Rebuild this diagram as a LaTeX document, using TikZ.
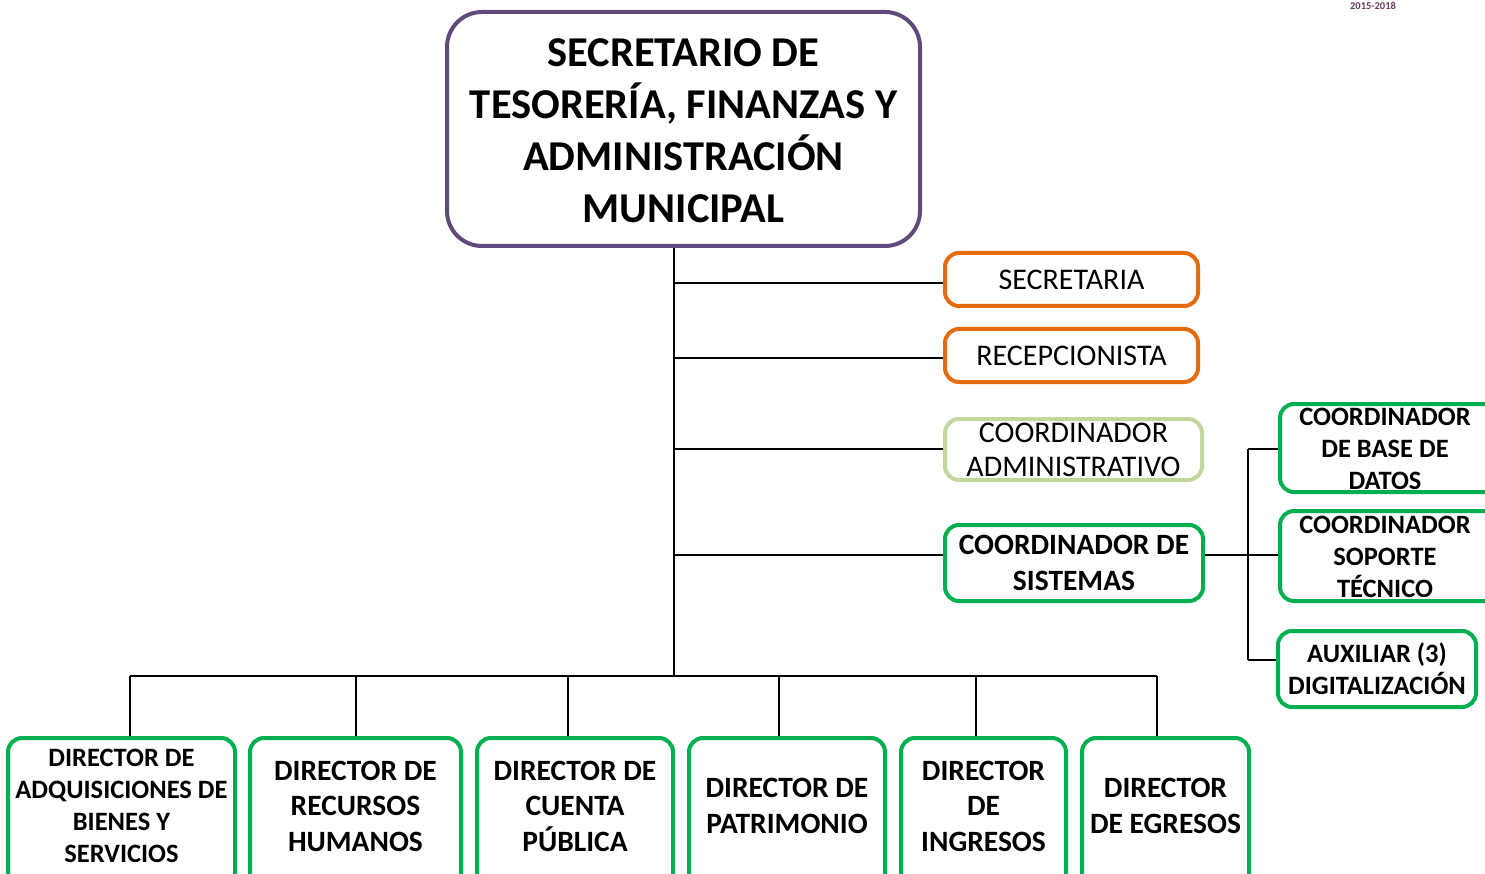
\documentclass[tikz,border=0pt]{standalone}
\usepackage{fontspec}
\setmainfont{Carlito}
\definecolor{cpurple}{HTML}{604A7B}
\definecolor{corange}{HTML}{E46C0A}
\definecolor{clgreen}{HTML}{C3D69B}
\definecolor{cgreen}{HTML}{00B050}
\definecolor{cyear}{HTML}{6B3A5E}
\begin{document}
\begin{tikzpicture}[x=1pt,y=-1pt,
  box/.style={draw, line width=4pt, rounded corners=14pt, fill=white, align=center, inner sep=0pt},
  conn/.style={draw, line width=1.5pt},
  fbig/.style={font=\fontsize{42.5}{52}\selectfont\bfseries},
  fmed/.style={font=\fontsize{30}{34}\selectfont},
  fmedb/.style={font=\fontsize{29.5}{35.5}\selectfont\bfseries},
  fsmb/.style={font=\fontsize{26.5}{32}\selectfont\bfseries},
]
\useasboundingbox (0,0) rectangle (1485,874);

% junction coordinates
\coordinate (tb) at (674,676);
\coordinate (ts) at (674,246);
\coordinate (j1) at (674,283);
\coordinate (j2) at (674,358);
\coordinate (j3) at (674,449);
\coordinate (j4) at (674,555);
\coordinate (hl) at (130,676);
\coordinate (hr) at (1157,676);
\coordinate (s1) at (1248,449);
\coordinate (s2) at (1248,555);
\coordinate (s3) at (1248,660);

% top box
\node[box, draw=cpurple, rounded corners=35pt, minimum width=473pt, minimum height=234pt, fbig] (top) at (683.5,129) {};
\node[fbig, align=center] (topt) at (683.5,131) {SECRETARIO DE\\TESORERÍA, FINANZAS Y\\ADMINISTRACIÓN\\MUNICIPAL};

% right column
\node[box, draw=corange, minimum width=253pt, minimum height=53pt, fmed] (sec) at (1071.5,279.5) {SECRETARIA};
\node[box, draw=corange, minimum width=253pt, minimum height=53pt, fmed] (rec) at (1071.5,355.5) {RECEPCIONISTA};
\node[box, draw=clgreen, minimum width=257pt, minimum height=61pt, fmed] (adm) at (1073.5,449.5) {COORDINADOR\\ADMINISTRATIVO};
\node[box, draw=cgreen, minimum width=258pt, minimum height=76pt, fmedb] (sis) at (1074,563) {COORDINADOR DE\\SISTEMAS};

% sub-boxes
\node[box, draw=cgreen, minimum width=220pt, minimum height=88pt] (bdd) at (1390,448) {};
\node[fsmb, align=center] (bddt) at (1385,449) {COORDINADOR\\DE BASE DE\\DATOS};
\node[box, draw=cgreen, minimum width=220pt, minimum height=90pt] (sop) at (1390,556) {};
\node[fsmb, align=center] (sopt) at (1385,557) {COORDINADOR\\SOPORTE\\TÉCNICO};
\node[box, draw=cgreen, minimum width=198pt, minimum height=76pt, fsmb] (aux) at (1377,669) {AUXILIAR (3)\\DIGITALIZACIÓN};

% bottom boxes
\node[box, draw=cgreen, minimum width=227pt, minimum height=150pt] (d1) at (121.5,813) {};
\node[fsmb, align=center] (d1t) at (121.5,806) {DIRECTOR DE\\ADQUISICIONES DE\\BIENES Y\\SERVICIOS};
\node[box, draw=cgreen, minimum width=211pt, minimum height=150pt] (d2) at (355.5,813) {};
\node[fmedb, align=center] (d2t) at (355.5,806) {DIRECTOR DE\\RECURSOS\\HUMANOS};
\node[box, draw=cgreen, minimum width=196pt, minimum height=150pt] (d3) at (575,813) {};
\node[fmedb, align=center] (d3t) at (575,806) {DIRECTOR DE\\CUENTA\\PÚBLICA};
\node[box, draw=cgreen, minimum width=196pt, minimum height=150pt] (d4) at (787,813) {};
\node[fmedb, align=center] (d4t) at (787,806) {DIRECTOR DE\\PATRIMONIO};
\node[box, draw=cgreen, minimum width=165pt, minimum height=150pt] (d5) at (983.5,813) {};
\node[fmedb, align=center] (d5t) at (983.5,806) {DIRECTOR\\DE\\INGRESOS};
\node[box, draw=cgreen, minimum width=167pt, minimum height=150pt] (d6) at (1165.5,813) {};
\node[fmedb, align=center] (d6t) at (1165.5,806) {DIRECTOR\\DE EGRESOS};

% connectors
\draw[conn] (top.south -| ts) -- (tb);
\draw[conn] (j1) -- (sec.west |- j1);
\draw[conn] (j2) -- (rec.west |- j2);
\draw[conn] (j3) -- (adm.west |- j3);
\draw[conn] (j4) -- (sis.west |- j4);
\draw[conn] (hl) -- (hr);
\draw[conn] (hl) -- (d1.north -| hl);
\draw[conn] (356,676) -- (d2.north -| 356,0);
\draw[conn] (568,676) -- (d3.north -| 568,0);
\draw[conn] (779,676) -- (d4.north -| 779,0);
\draw[conn] (976,676) -- (d5.north -| 976,0);
\draw[conn] (hr) -- (d6.north -| hr);
\draw[conn] (sis.east |- j4) -- (s2);
\draw[conn] (s1) -- (s3);
\draw[conn] (s1) -- (bdd.west |- s1);
\draw[conn] (s2) -- (sop.west |- s2);
\draw[conn] (s3) -- (aux.west |- s3);

% year label
\node[font=\fontsize{10.5}{12}\selectfont\bfseries, text=cyear] (yr) at (1373,5.5) {2015-2018};
\end{tikzpicture}
\end{document}
